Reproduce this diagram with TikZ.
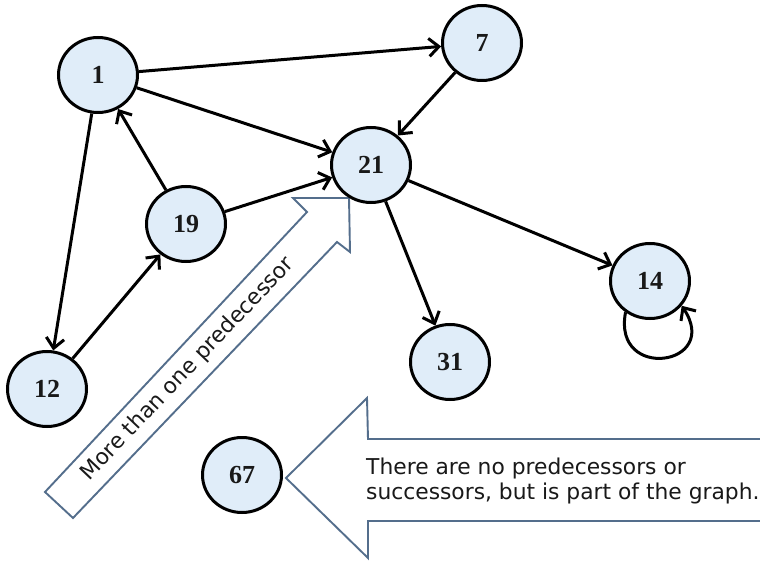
\documentclass[tikz,border=0pt]{standalone}
\usepackage{fontspec}
\newfontfamily\labfont{Liberation Serif}
\newfontfamily\notefont{DejaVu Sans}
\usetikzlibrary{arrows.meta,shapes.geometric}
\definecolor{nodefill}{RGB}{224,237,249}
\definecolor{calloutc}{RGB}{84,110,140}
\definecolor{notetext}{RGB}{25,25,25}
\begin{document}
\begin{tikzpicture}[x=1pt,y=-1pt,
  vertex/.style={ellipse,draw=black,line width=3pt,fill=nodefill,minimum width=79pt,minimum height=75pt,inner sep=0pt,font=\labfont\bfseries\fontsize{26}{26}\selectfont,text=black!90},
  edge/.style={line width=3pt,-{Straight Barb[length=10pt,width=18pt]}},
  calloutbox/.style={draw=calloutc,line width=1.9pt,fill=white,line join=miter},
  notestyle/.style={font=\notefont\fontsize{21.8}{25}\selectfont,text=notetext,inner sep=0pt}]
\useasboundingbox (0,0) rectangle (760,561);
\fill[white] (0,0) rectangle (760,561);
% callout arrows
\draw[calloutbox] (45,492) -- (307,212) -- (293,198) -- (349,198) -- (350,252) -- (337,242) -- (73,518) -- cycle;
\node[notestyle,rotate=46.5] (note1) at (188,369) {More than one predecessor};
\begin{scope}
\clip (0,0) rectangle (760,561);
\draw[calloutbox] (286,478) -- (367,398) -- (368,439) -- (790,439) -- (790,521) -- (368,521) -- (368,558) -- cycle;
\node[notestyle,anchor=west,align=left] (note2) at (366,481) {There are no predecessors or\\successors, but is part of the graph.};
\end{scope}
% nodes
\node[vertex] (n1) at (98,75) {1};
\node[vertex] (n7) at (482,43) {7};
\node[vertex] (n21) at (371,165) {21};
\node[vertex] (n19) at (186,224) {19};
\node[vertex] (n12) at (47,389) {12};
\node[vertex] (n31) at (450,362) {31};
\node[vertex] (n14) at (650,281) {14};
\node[vertex] (n67) at (242,475) {67};
% edges
\draw[edge] (n1) -- (n7);
\draw[edge] (n1) -- (n21);
\draw[edge] (n1) -- (n12);
\draw[edge] (n19) -- (n1);
\draw[edge] (n19) -- (n21);
\draw[edge] (n12) -- (n19);
\draw[edge] (n7) -- (n21);
\draw[edge] (n21) -- (n14);
\draw[edge] (n21) -- (n31);
\draw[edge] (n14.232) .. controls (612,382) and (722,366) .. (n14.-38);
\end{tikzpicture}
\end{document}
